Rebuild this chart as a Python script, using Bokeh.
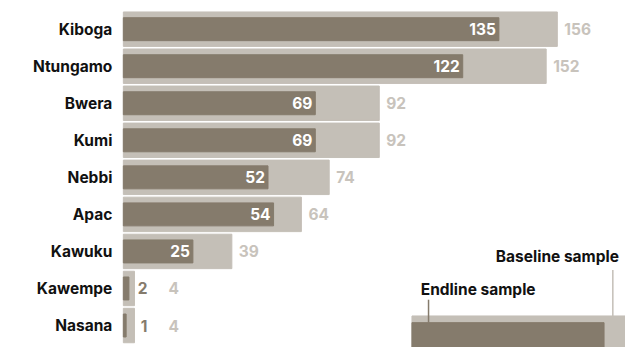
from bokeh.plotting import figure
from bokeh.models import Range1d, ColumnDataSource
from bokeh.core.properties import value
from bokeh.embed import file_html
from bokeh.resources import INLINE

districts = ["Kiboga", "Ntungamo", "Bwera", "Kumi", "Nebbi", "Apac", "Kawuku", "Kawempe", "Nasana"]
endline = [135, 122, 69, 69, 52, 54, 25, 2, 1]
baseline = [156, 152, 92, 92, 74, 64, 39, 4, 4]

DARK = "#857b6c"
LIGHT = "#c4bfb7"
LIGHT_TXT = "#c8c3bc"
FONT = "Inter"
FS = "15.5px"

W, H = 625, 347
SX, SY = W / 641, H / 363          # fit the 641x363 design into the figure
PX_PER_UNIT = 2.853 * SX
X0_PX = 126 * SX     # pixel position of value 0
ROW0_PX = 30 * SY    # first row centre
ROW_PX = 38.75 * SY  # row pitch

def px_x(px):
    return (px * SX - X0_PX) / PX_PER_UNIT

def px_y(py):
    return (py * SY - ROW0_PX) / ROW_PX

p = figure(width=W, height=H, output_backend="svg", toolbar_location=None,
           x_range=Range1d(-X0_PX / PX_PER_UNIT, (W - X0_PX) / PX_PER_UNIT),
           y_range=Range1d((H - ROW0_PX) / ROW_PX, -ROW0_PX / ROW_PX),
           min_border=0, outline_line_color=None, background_fill_color="white")
p.axis.visible = False
p.grid.visible = False

n = len(districts)
ys = list(range(n))
inside = [e >= 10 for e in endline]
src = ColumnDataSource(dict(y=ys, name=districts, end=endline, base=baseline))

p.hbar(y="y", left=0, right="base", height=0.93, color=LIGHT, source=src)
p.hbar(y="y", left=0, right="end", height=0.62, color=DARK, source=src)

common = dict(text_baseline="middle", text_font=value(FONT), text_font_style="bold",
              text_font_size=FS)

# district names
p.text(x=0, y="y", text="name", source=src, x_offset=-11, text_align="right",
       text_color="#111111", **common)

# endline values inside bars
in_src = ColumnDataSource(dict(
    y=[y for y, i in zip(ys, inside) if i],
    x=[e for e, i in zip(endline, inside) if i],
    t=[str(e) for e, i in zip(endline, inside) if i]))
p.text(x="x", y="y", text="t", source=in_src, x_offset=-3, text_align="right",
       text_color="white", **common)

# endline values outside bars
out_src = ColumnDataSource(dict(
    y=[y for y, i in zip(ys, inside) if not i],
    x=[b for b, i in zip(baseline, inside) if not i],
    t=[str(e) for e, i in zip(endline, inside) if not i]))
p.text(x="x", y="y", text="t", source=out_src, x_offset=13, text_align="right",
       text_color=DARK, **common)

# baseline values
b_off = [7 if i else 34 for i in inside]
b_src = ColumnDataSource(dict(y=ys, x=baseline, t=[str(b) for b in baseline], off=b_off))
p.text(x="x", y="y", text="t", source=b_src, x_offset="off", text_align="left",
       text_color=LIGHT_TXT, **common)

# legend key (partially clipped miniature bar)
p.quad(left=[px_x(422)], right=[px_x(700)], top=[px_y(330)], bottom=[px_y(400)], color=LIGHT)
p.quad(left=[px_x(422)], right=[px_x(619)], top=[px_y(337)], bottom=[px_y(400)], color=DARK)
p.segment(x0=[px_x(439)], x1=[px_x(439)], y0=[px_y(313)], y1=[px_y(337)], line_color=DARK, line_width=1.5)
p.segment(x0=[px_x(628)], x1=[px_x(628)], y0=[px_y(282)], y1=[px_y(330)], line_color=LIGHT, line_width=1.5)
p.text(x=[px_x(431)], y=[px_y(302)], text=["Endline sample"], text_align="left",
       text_color="#111111", **common)
p.text(x=[px_x(508)], y=[px_y(268)], text=["Baseline sample"], text_align="left",
       text_color="#111111", **common)

open("out.html", "w").write(file_html(p, INLINE))
